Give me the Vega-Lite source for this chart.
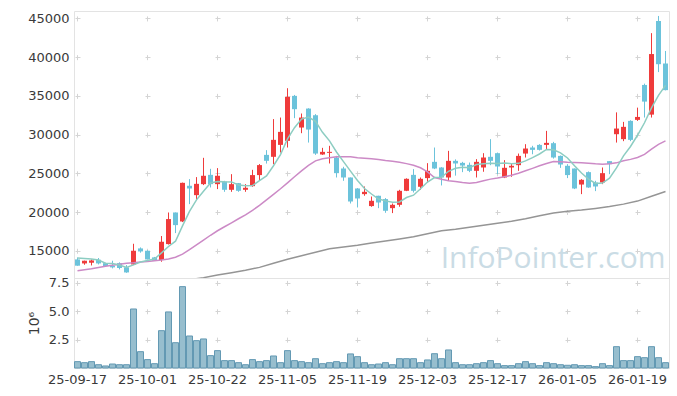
{
"$schema": "https://vega.github.io/schema/vega-lite/v6.json",
"padding": {"left": 18, "top": 10, "right": 9, "bottom": 0},
"spacing": 0,
"bounds": "flush",
"config": {
  "view": {"stroke": "#e3e3e3"},
  "font": "DejaVu Sans",
  "axis": {"labelFont": "DejaVu Sans", "labelFontSize": 13, "labelColor": "#3a3a3a", "ticks": false, "tickSize": 0, "domain": false, "gridColor": "#d4d4d4", "gridWidth": 1, "titleFont": "DejaVu Sans", "titleFontWeight": "normal", "titleFontSize": 14, "titleColor": "#3a3a3a"}
},
"datasets": {
"k": [
{"d":"25-09-17","o":13880,"h":14130,"l":13060,"c":13070,"v":0.56,"a":14050,"b":12420},
{"d":"25-09-18","o":13360,"h":13720,"l":13190,"c":13710,"v":0.47,"a":13990,"b":12550},
{"d":"25-09-19","o":13450,"h":13880,"l":13100,"c":13750,"v":0.56,"a":13930,"b":12680},
{"d":"25-09-22","o":13840,"h":14060,"l":13230,"c":13360,"v":0.29,"a":13800,"b":12850},
{"d":"25-09-23","o":13400,"h":13450,"l":12980,"c":13030,"v":0.18,"a":13384,"b":13000},
{"d":"25-09-24","o":13060,"h":13710,"l":12720,"c":12850,"v":0.35,"a":13340,"b":13130},
{"d":"25-09-25","o":13400,"h":13500,"l":12590,"c":12770,"v":0.29,"a":13152,"b":13260},
{"d":"25-09-26","o":12850,"h":13150,"l":12150,"c":12200,"v":0.29,"a":12842,"b":13390},
{"d":"25-09-29","o":13230,"h":15900,"l":13150,"c":15000,"v":5.2,"a":13170,"b":13450},
{"d":"25-09-30","o":15300,"h":15430,"l":14750,"c":14910,"v":1.44,"a":13546,"b":13540},
{"d":"25-10-01","o":15000,"h":15050,"l":13880,"c":13880,"v":0.74,"a":13752,"b":13620},
{"d":"25-10-02","o":14140,"h":14200,"l":13700,"c":13710,"v":0.38,"a":13940,"b":13710},
{"d":"25-10-10","o":13800,"h":16900,"l":13580,"c":16160,"v":3.29,"a":14732,"b":13800},
{"d":"25-10-13","o":15860,"h":19940,"l":15800,"c":19090,"v":4.94,"a":15550,"b":13930},
{"d":"25-10-14","o":19940,"h":19940,"l":17280,"c":18310,"v":2.23,"a":16230,"b":14160},
{"d":"25-10-15","o":18780,"h":23800,"l":18700,"c":23770,"v":7.17,"a":18208,"b":14570},
{"d":"25-10-16","o":23390,"h":24250,"l":21020,"c":23040,"v":2.82,"a":20074,"b":15130},
{"d":"25-10-17","o":22180,"h":24510,"l":21580,"c":23640,"v":2.41,"a":21570,"b":15770},
{"d":"25-10-20","o":23600,"h":27000,"l":23480,"c":24680,"v":2.56,"a":22688,"b":16380},
{"d":"25-10-21","o":24800,"h":25580,"l":23170,"c":23600,"v":1.09,"a":23746,"b":17000},
{"d":"25-10-22","o":23600,"h":25670,"l":22960,"c":24680,"v":1.53,"a":23928,"b":17580},
{"d":"25-10-23","o":23940,"h":24030,"l":22610,"c":22870,"v":0.65,"a":23894,"b":18100},
{"d":"25-10-24","o":22870,"h":24890,"l":22610,"c":23600,"v":0.65,"a":23886,"b":18610},
{"d":"25-10-27","o":23730,"h":23750,"l":22610,"c":22740,"v":0.47,"a":23498,"b":19130},
{"d":"25-10-28","o":22870,"h":23600,"l":22610,"c":23130,"v":0.29,"a":23404,"b":19640},
{"d":"25-10-29","o":23340,"h":25450,"l":23260,"c":24770,"v":0.74,"a":23422,"b":20220},
{"d":"25-10-30","o":24770,"h":26190,"l":24030,"c":26060,"v":0.56,"a":24060,"b":20870},
{"d":"25-10-31","o":27380,"h":27990,"l":26260,"c":26610,"v":0.65,"a":24662,"b":21580},
{"d":"25-11-03","o":27130,"h":32000,"l":26180,"c":29320,"v":1.06,"a":25978,"b":22290},
{"d":"25-11-04","o":28670,"h":32200,"l":27680,"c":30350,"v":0.47,"a":27422,"b":23000},
{"d":"25-11-05","o":29190,"h":35990,"l":28330,"c":34870,"v":1.53,"a":29442,"b":23770},
{"d":"25-11-06","o":35000,"h":35120,"l":32120,"c":33280,"v":0.65,"a":30886,"b":24550},
{"d":"25-11-07","o":30910,"h":32720,"l":30180,"c":32200,"v":0.56,"a":32004,"b":25320},
{"d":"25-11-10","o":33360,"h":33400,"l":28970,"c":30650,"v":0.47,"a":32270,"b":26030},
{"d":"25-11-11","o":32500,"h":32640,"l":27380,"c":27550,"v":0.82,"a":31710,"b":26610},
{"d":"25-11-12","o":27430,"h":28290,"l":27380,"c":27770,"v":0.38,"a":30290,"b":26870},
{"d":"25-11-13","o":27640,"h":28550,"l":26270,"c":27770,"v":0.47,"a":29188,"b":27020},
{"d":"25-11-14","o":27040,"h":27250,"l":24460,"c":25020,"v":0.56,"a":27752,"b":27130},
{"d":"25-11-17","o":25620,"h":25840,"l":24030,"c":24460,"v":0.47,"a":26514,"b":27150},
{"d":"25-11-18","o":24460,"h":24460,"l":21100,"c":21360,"v":1.24,"a":25276,"b":27130},
{"d":"25-11-19","o":23040,"h":23090,"l":20590,"c":21750,"v":1.0,"a":24072,"b":27000},
{"d":"25-11-20","o":22310,"h":23300,"l":22100,"c":22610,"v":0.47,"a":23040,"b":26930},
{"d":"25-11-21","o":20770,"h":22000,"l":20680,"c":21450,"v":0.29,"a":22326,"b":26870},
{"d":"25-11-24","o":22100,"h":22100,"l":20500,"c":21230,"v":0.35,"a":21680,"b":26780},
{"d":"25-11-25","o":21670,"h":21800,"l":19900,"c":20160,"v":0.47,"a":21440,"b":26650},
{"d":"25-11-26","o":20500,"h":21100,"l":19860,"c":20930,"v":0.29,"a":21276,"b":26550},
{"d":"25-11-27","o":20930,"h":22870,"l":20680,"c":22740,"v":0.82,"a":21302,"b":26420},
{"d":"25-11-28","o":22740,"h":24350,"l":22700,"c":24290,"v":0.82,"a":21870,"b":26250},
{"d":"25-12-01","o":24800,"h":25540,"l":22520,"c":22740,"v":0.82,"a":22172,"b":26030},
{"d":"25-12-02","o":23260,"h":24460,"l":22870,"c":24290,"v":0.47,"a":22998,"b":25710},
{"d":"25-12-03","o":24380,"h":26310,"l":23810,"c":25320,"v":0.71,"a":23876,"b":25190},
{"d":"25-12-04","o":26480,"h":28330,"l":25540,"c":25620,"v":1.26,"a":24452,"b":24460},
{"d":"25-12-05","o":25750,"h":25800,"l":23430,"c":24460,"v":0.82,"a":24486,"b":24220},
{"d":"25-12-08","o":24460,"h":27900,"l":24030,"c":26610,"v":1.59,"a":25260,"b":24030},
{"d":"25-12-09","o":26610,"h":26800,"l":24700,"c":26270,"v":0.47,"a":25656,"b":23940},
{"d":"25-12-10","o":26350,"h":26480,"l":25150,"c":26000,"v":0.29,"a":25792,"b":23810},
{"d":"25-12-11","o":26090,"h":26390,"l":25150,"c":25320,"v":0.29,"a":25732,"b":23710},
{"d":"25-12-12","o":25320,"h":26830,"l":24460,"c":26480,"v":0.38,"a":26136,"b":23810},
{"d":"25-12-15","o":25750,"h":27600,"l":25200,"c":27040,"v":0.47,"a":26222,"b":24030},
{"d":"25-12-16","o":27130,"h":29410,"l":26050,"c":26610,"v":0.65,"a":26290,"b":24250},
{"d":"25-12-17","o":27600,"h":27680,"l":24890,"c":25880,"v":0.38,"a":26266,"b":24380},
{"d":"25-12-18","o":24460,"h":26700,"l":24380,"c":25710,"v":0.21,"a":26344,"b":24550},
{"d":"25-12-19","o":25750,"h":26260,"l":24550,"c":25970,"v":0.21,"a":26242,"b":24740},
{"d":"25-12-22","o":26050,"h":27550,"l":25320,"c":27250,"v":0.38,"a":26284,"b":25000},
{"d":"25-12-23","o":27550,"h":28760,"l":27040,"c":28200,"v":0.56,"a":26602,"b":25320},
{"d":"25-12-24","o":28330,"h":28550,"l":27460,"c":28030,"v":0.38,"a":27032,"b":25640},
{"d":"25-12-26","o":28670,"h":28760,"l":27940,"c":28030,"v":0.21,"a":27496,"b":25970},
{"d":"25-12-29","o":28670,"h":30480,"l":28120,"c":28930,"v":0.47,"a":28088,"b":26260},
{"d":"25-12-30","o":28890,"h":29060,"l":26900,"c":27040,"v":0.38,"a":28046,"b":26520},
{"d":"26-01-02","o":27250,"h":27300,"l":25700,"c":26140,"v":0.29,"a":27634,"b":26480},
{"d":"26-01-05","o":25970,"h":26180,"l":24380,"c":24770,"v":0.24,"a":26982,"b":26420},
{"d":"26-01-06","o":25620,"h":25620,"l":22960,"c":23040,"v":0.29,"a":25984,"b":26390},
{"d":"26-01-07","o":23550,"h":24250,"l":22310,"c":24160,"v":0.21,"a":25030,"b":26350},
{"d":"26-01-08","o":25150,"h":25240,"l":23130,"c":23170,"v":0.21,"a":24256,"b":26290},
{"d":"26-01-09","o":23810,"h":24030,"l":22700,"c":23300,"v":0.12,"a":23688,"b":26220},
{"d":"26-01-12","o":23810,"h":25750,"l":23600,"c":25020,"v":0.38,"a":23738,"b":26180},
{"d":"26-01-13","o":26570,"h":26570,"l":24890,"c":26180,"v":0.21,"a":24366,"b":26220},
{"d":"26-01-14","o":30050,"h":32870,"l":28970,"c":30780,"v":1.88,"a":25690,"b":26350},
{"d":"26-01-15","o":29410,"h":31640,"l":29150,"c":31000,"v":0.65,"a":27256,"b":26610},
{"d":"26-01-16","o":31770,"h":31850,"l":29150,"c":29320,"v":0.65,"a":28460,"b":26800},
{"d":"26-01-19","o":31900,"h":33480,"l":31770,"c":32280,"v":1.0,"a":29912,"b":27040},
{"d":"26-01-20","o":36410,"h":36580,"l":32200,"c":34260,"v":0.91,"a":31528,"b":27450},
{"d":"26-01-21","o":32580,"h":43100,"l":32200,"c":40400,"v":1.88,"a":33452,"b":28120},
{"d":"26-01-22","o":44670,"h":45320,"l":38070,"c":39090,"v":0.91,"a":35070,"b":28740},
{"d":"26-01-23","o":39180,"h":40800,"l":35710,"c":35740,"v":0.47,"a":36354,"b":29190}
],
"m60": [
{"d":"25-10-16","m":11260},{"d":"25-10-20","m":11520},{"d":"25-10-22","m":11870},{"d":"25-10-24","m":12160},
{"d":"25-10-28","m":12480},{"d":"25-10-30","m":12850},{"d":"25-11-03","m":13390},{"d":"25-11-05","m":13900},
{"d":"25-11-07","m":14360},{"d":"25-11-11","m":14810},{"d":"25-11-13","m":15260},{"d":"25-11-17","m":15480},
{"d":"25-11-19","m":15710},{"d":"25-11-21","m":15990},{"d":"25-11-25","m":16250},{"d":"25-11-27","m":16510},
{"d":"25-12-01","m":16810},{"d":"25-12-03","m":17190},{"d":"25-12-05","m":17580},{"d":"25-12-09","m":17770},
{"d":"25-12-11","m":18030},{"d":"25-12-15","m":18290},{"d":"25-12-17","m":18550},{"d":"25-12-19","m":18810},
{"d":"25-12-23","m":19130},{"d":"25-12-26","m":19520},{"d":"25-12-30","m":19860},{"d":"26-01-05","m":20100},
{"d":"26-01-07","m":20250},{"d":"26-01-09","m":20460},{"d":"26-01-13","m":20710},{"d":"26-01-15","m":21020},
{"d":"26-01-19","m":21410},{"d":"26-01-21","m":22030},{"d":"26-01-23","m":22650}
],
"wm": [{"t":"InfoPointer.com","d":"26-01-23","y":12800}]
},
"vconcat": [
{
  "width": 595, "height": 267,
  "encoding": {
    "x": {"field": "d", "type": "ordinal", "scale": {"type": "band", "paddingInner": 0, "paddingOuter": 0},
          "axis": {"values": ["25-09-17","25-10-01","25-10-22","25-11-05","25-11-19","25-12-03","25-12-17","26-01-05","26-01-19"], "labels": false, "title": null, "grid": true, "gridDash": [5, 33.72], "gridDashOffset": 33.79, "minExtent": 0, "maxExtent": 0}}
  },
  "layer": [
    {"data": {"name": "wm"}, "mark": {"type": "text", "align": "right", "baseline": "alphabetic", "font": "Open Sans", "fontSize": 30, "color": "#cadce5"},
     "encoding": {"x": {"field": "d", "type": "ordinal"}, "y": {"field": "y", "type": "quantitative", "scale": {"domain": [11480, 45960], "nice": false, "zero": false}, "axis": {"values": [15000,20000,25000,30000,35000,40000,45000], "format": "d", "title": null, "grid": true, "gridDash": [5, 65], "gridDashOffset": 69, "labelPadding": 5, "minExtent": 55, "maxExtent": 55}}, "text": {"field": "t"}}},
    {"data": {"name": "k"}, "mark": {"type": "rule", "strokeWidth": 1, "clip": true},
     "encoding": {"y": {"field": "l", "type": "quantitative"}, "y2": {"field": "h"},
       "color": {"condition": {"test": "datum.c > datum.o", "value": "#ef3b3b"}, "value": "#6cc3db"}}},
    {"data": {"name": "k"}, "mark": {"type": "bar", "size": 5, "clip": true},
     "encoding": {"y": {"field": "o", "type": "quantitative"}, "y2": {"field": "c"},
       "color": {"condition": {"test": "datum.c > datum.o", "value": "#ef3b3b"}, "value": "#6cc3db"}}},
    {"data": {"name": "m60"}, "mark": {"type": "line", "color": "#959595", "strokeWidth": 1.5, "clip": true},
     "encoding": {"y": {"field": "m", "type": "quantitative"}}},
    {"data": {"name": "k"}, "mark": {"type": "line", "color": "#cc8ac6", "strokeWidth": 1.5, "clip": true},
     "encoding": {"y": {"field": "b", "type": "quantitative"}}},
    {"data": {"name": "k"}, "mark": {"type": "line", "color": "#8dcdc2", "strokeWidth": 1.5, "clip": true},
     "encoding": {"y": {"field": "a", "type": "quantitative"}}}
  ]
},
{
  "width": 595, "height": 90,
  "data": {"name": "k"},
  "mark": {"type": "bar", "size": 6, "fill": "#97bece", "stroke": "#6399b3", "strokeWidth": 1},
  "encoding": {
    "x": {"field": "d", "type": "ordinal", "scale": {"type": "band", "paddingInner": 0, "paddingOuter": 0},
          "axis": {"values": ["25-09-17","25-10-01","25-10-22","25-11-05","25-11-19","25-12-03","25-12-17","26-01-05","26-01-19"], "labelAngle": 0, "labelPadding": 5, "title": null, "grid": true, "gridDash": [5, 23.37], "gridDashOffset": 25.97}},
    "y": {"field": "v", "type": "quantitative", "scale": {"domain": [0, 7.93], "nice": false},
          "axis": {"values": [2.5, 5, 7.5], "format": ".1f", "title": "10⁶", "titleX": -40, "titleY": 45, "titleAngle": -90, "titleAlign": "center", "titleBaseline": "middle", "grid": true, "gridDash": [5, 65], "gridDashOffset": 69, "labelPadding": 5, "minExtent": 55, "maxExtent": 55}}
  }
}
]
}
